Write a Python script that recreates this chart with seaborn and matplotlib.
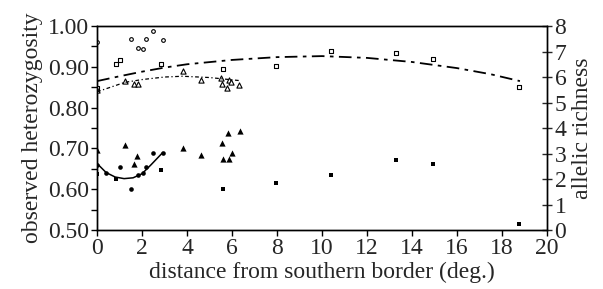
import matplotlib
matplotlib.use("Agg")
import matplotlib.pyplot as plt
import seaborn as sns

# filled symbols: observed heterozygosity (left axis)
circ_x = [0, 0.41, 1.04, 1.51, 1.82, 2.03, 2.18, 2.47, 2.92]
circ_ho = [0.659, 0.639, 0.654, 0.600, 0.635, 0.641, 0.654, 0.690, 0.690]
sq_x = [0, 0.86, 2.86, 5.6, 7.97, 10.4, 13.28, 14.95, 18.77]
sq_ho = [0.637, 0.626, 0.646, 0.600, 0.616, 0.636, 0.671, 0.663, 0.516]
tri_x = [0, 1.23, 1.79, 1.66, 3.81, 4.61, 5.54, 5.84, 5.58, 5.88, 6.0, 6.37]
tri_ho = [0.697, 0.708, 0.681, 0.662, 0.702, 0.684, 0.713, 0.737, 0.673, 0.673, 0.690, 0.743]

# open symbols: allelic richness (right axis)
ocirc_x = [0, 1.51, 1.81, 2.03, 2.18, 2.47, 2.92]
ocirc_ar = [7.36, 7.49, 7.15, 7.10, 7.49, 7.79, 7.47]
osq_x = [0, 0.86, 1.04, 2.86, 5.6, 7.97, 10.4, 13.28, 14.95, 18.77]
osq_ar = [5.55, 6.50, 6.66, 6.53, 6.30, 6.45, 7.02, 6.93, 6.69, 5.60]
otri_x = [0, 1.23, 1.66, 1.81, 3.81, 4.6, 5.5, 5.56, 5.85, 5.76, 5.97, 6.33]
otri_ar = [5.49, 5.84, 5.71, 5.71, 6.24, 5.90, 5.97, 5.74, 5.89, 5.55, 5.82, 5.68]

# trend lines
fit_circ_x = [0, 0.4, 0.8, 1.2, 1.6, 2.0, 2.4, 2.92]
fit_circ_ho = [0.663, 0.641, 0.630, 0.626, 0.628, 0.638, 0.660, 0.690]
fit_sq_x = [0, 1, 2, 3, 4, 6, 8, 10, 12, 14, 16, 17.5, 18.8]
fit_sq_ar = [5.84, 6.03, 6.21, 6.37, 6.50, 6.67, 6.78, 6.82, 6.75, 6.59, 6.35, 6.11, 5.84]
fit_tri_x = [0, 1.23, 2, 3, 3.8, 5, 6.33]
fit_tri_ar = [5.42, 5.79, 5.90, 6.00, 6.03, 5.98, 5.86]

sns.set_style("ticks")
plt.rcParams['font.family'] = ['Liberation Serif', 'DejaVu Serif']
plt.rcParams['font.size'] = 17

fig, ax = plt.subplots(figsize=(6.03, 2.89), dpi=100)
fig.subplots_adjust(left=0.161, right=0.907, top=0.910, bottom=0.204)
ax2 = ax.twinx()

sns.scatterplot(x=circ_x, y=circ_ho, ax=ax, marker='o', color='black', s=11, linewidth=0)
sns.scatterplot(x=sq_x, y=sq_ho, ax=ax, marker='s', color='black', s=11, linewidth=0)
sns.scatterplot(x=tri_x, y=tri_ho, ax=ax, marker='^', color='black', s=20, linewidth=0)
ax.plot(fit_circ_x, fit_circ_ho, color='black', lw=1.1)

sns.scatterplot(x=ocirc_x, y=ocirc_ar, ax=ax2, marker='o', facecolor='white', edgecolor='black', s=7, linewidth=0.8)
sns.scatterplot(x=osq_x, y=osq_ar, ax=ax2, marker='s', facecolor='white', edgecolor='black', s=8, linewidth=0.8)
sns.scatterplot(x=otri_x, y=otri_ar, ax=ax2, marker='^', facecolor='white', edgecolor='black', s=14, linewidth=0.8)
ax2.plot(fit_sq_x, fit_sq_ar, color='black', lw=1.3, dashes=(7, 3, 2, 3))
ax2.plot(fit_tri_x, fit_tri_ar, color='black', lw=0.9, dashes=(3, 2, 1, 2))

ax.set_xlim(0, 20)
ax.set_ylim(0.5, 1.0)
ax2.set_ylim(0, 8)
ax.set_xticks(range(0, 21, 2))
ax.set_yticks([0.5, 0.6, 0.7, 0.8, 0.9, 1.0])
ax.set_yticks([0.55, 0.65, 0.75, 0.85, 0.95], minor=True)
ax.set_yticklabels(['%.2f' % v for v in [0.5, 0.6, 0.7, 0.8, 0.9, 1.0]])
ax2.set_yticks(range(0, 9))

ax.tick_params(axis='both', which='both', direction='out', length=4, width=1, color='black', pad=2)
ax2.tick_params(axis='y', direction='inout', length=7, width=1, pad=2)
ax.set_xlabel('distance from southern border (deg.)', labelpad=2)
ax.set_ylabel('observed heterozygosity', labelpad=3)
ax2.set_ylabel('allelic richness', labelpad=4)

for a in (ax, ax2):
    for sp in a.spines.values():
        sp.set_visible(True)
        sp.set_color('black')
        sp.set_linewidth(1)

fig.savefig('out.png', dpi=100)
